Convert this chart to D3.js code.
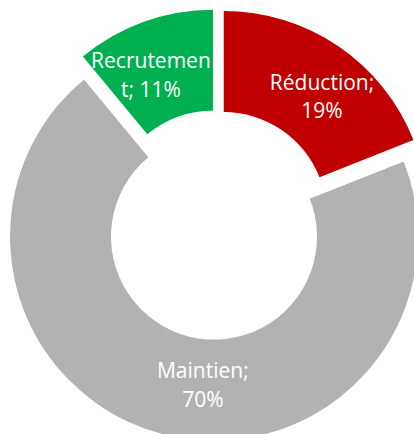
<!DOCTYPE html>
<html>
<head>
<meta charset="utf-8">
<script src="https://cdn.jsdelivr.net/npm/d3@7/dist/d3.min.js"></script>
<style>
  html, body { margin: 0; padding: 0; background: #fff; }
  svg text { font-family: 'Open Sans', sans-serif; }
</style>
</head>
<body>
<div id="chart"></div>
<script>
// donut data
var categories = ['Réduction', 'Maintien', 'Recrutement'];
var values = [19, 70, 11];
var labelLines = [['Réduction;', '19%'], ['Maintien;', '70%'], ['Recrutemen', 't; 11%']];

var colors = ['#c00000', '#b2b2b2', '#00b050'];
var label_nudge = [[12, 9], [27, 0], [-10, 6]];

var width = 414,
    height = 434,
    cx = 217,
    cy = 225,
    outer_radius = 204,
    inner_radius = 103,
    explode = 12;

var svg = d3.select('#chart')
  .append('svg')
  .attr('width', width)
  .attr('height', height);

var pie = d3.pie()
  .sort(null)
  .value(d => d.value)
  .startAngle(0)
  .endAngle(2 * Math.PI);

var arc = d3.arc()
  .innerRadius(inner_radius)
  .outerRadius(outer_radius);

var slices = pie(categories.map((c, i) => ({ name: c, value: values[i], index: i })));

var shift = function(d) {
  var mid = (d.startAngle + d.endAngle) / 2;
  return [explode * Math.sin(mid), -explode * Math.cos(mid)];
};

var g = svg.append('g')
  .attr('transform', 'translate(' + cx + ',' + cy + ')');

g.selectAll('path')
  .data(slices)
  .enter()
  .append('path')
  .attr('d', arc)
  .attr('fill', d => colors[d.data.index])
  .attr('transform', d => 'translate(' + shift(d) + ')');

var line_height = 28.5;

var labels = g.selectAll('text')
  .data(slices)
  .enter()
  .append('text')
  .attr('text-anchor', 'middle')
  .attr('font-size', '21px')
  .attr('fill', '#ffffff')
  .attr('transform', d => {
    var c = arc.centroid(d), s = shift(d), n = label_nudge[d.data.index];
    return 'translate(' + (c[0] + s[0] + n[0]) + ',' + (c[1] + s[1] + n[1]) + ')';
  });

labels.selectAll('tspan')
  .data(d => labelLines[d.data.index])
  .enter()
  .append('tspan')
  .attr('x', 0)
  .attr('y', (t, i) => (i - 0.5) * line_height + 7)
  .text(t => t);
</script>
</body>
</html>
